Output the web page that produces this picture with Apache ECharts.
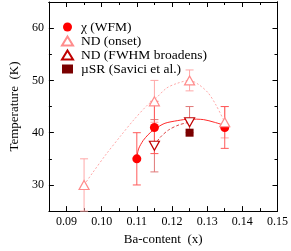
<!DOCTYPE html>
<html>
<head>
<meta charset="utf-8">
<script src="https://cdn.jsdelivr.net/npm/echarts@6/dist/echarts.min.js"></script>
<style>
html,body{margin:0;padding:0;background:#fff;}
#c{width:291px;height:251px;}
</style>
</head>
<body>
<div id="c"></div>
<script>
// ---- data ----
var xMajor = [0.09, 0.10, 0.11, 0.12, 0.13, 0.14, 0.15];
var xMinor = [0.095, 0.105, 0.115, 0.125, 0.135, 0.145];
var yMajor = [30, 40, 50, 60];
var yMinor = [35, 45, 55];

var chiX = [0.110, 0.115, 0.135];
var chiY = [35, 41, 41];
var chiLo = [30, 36, 37];
var chiHi = [40, 46, 45];

var onsetX = [0.095, 0.115, 0.125, 0.135];
var onsetY = [30, 46, 50, 42];
var onsetLo = [25, 42, 48, 39];
var onsetHi = [35, 50, 52, 45];

var fwhmX = [0.115, 0.125];
var fwhmY = [37.5, 42];
var fwhmLo = [32.5, 40];
var fwhmHi = [42.5, 45];

var musrX = [0.125];
var musrY = [40];

var chiFitX = [0.110, 0.1105, 0.1118, 0.1132, 0.1145, 0.1158, 0.118, 0.1215, 0.125, 0.129, 0.132, 0.135];
var chiFitY = [35.2, 36.9, 38.5, 39.6, 40.4, 41.0, 41.8, 42.3, 42.6, 42.5, 42.0, 41.4];

var onsetFitX = [0.095, 0.0974, 0.1013, 0.1053, 0.1092, 0.1132, 0.115, 0.1184, 0.1213, 0.125, 0.1276, 0.1303, 0.1325, 0.135];
var onsetFitY = [30, 32.3, 35.9, 39.3, 42.5, 45.4, 46.3, 48.5, 49.4, 50, 49.2, 47.6, 45.3, 42];

var fwhmFitX = [0.115, 0.1165, 0.119, 0.122, 0.125];
var fwhmFitY = [37.5, 39.0, 40.5, 41.5, 42.0];

function zip(a, b) { return a.map(function (v, i) { return [v, b[i]]; }); }
function zip3(a, b, c) { return a.map(function (v, i) { return [v, b[i], c[i]]; }); }

var FONT = 'Liberation Serif';

function errSeries(data, color) {
  return {
    type: 'custom', xAxisIndex: 0, yAxisIndex: 0, z: 1, silent: true,
    data: data,
    renderItem: function (params, api) {
      var x = api.value(0);
      var lo = api.coord([x, api.value(1)]);
      var hi = api.coord([x, api.value(2)]);
      var w = 4;
      var st = { stroke: color, lineWidth: 1 };
      return {
        type: 'group', children: [
          { type: 'line', shape: { x1: lo[0], y1: lo[1], x2: hi[0], y2: hi[1] }, style: st },
          { type: 'line', shape: { x1: lo[0] - w, y1: lo[1], x2: lo[0] + w, y2: lo[1] }, style: st },
          { type: 'line', shape: { x1: hi[0] - w, y1: hi[1], x2: hi[0] + w, y2: hi[1] }, style: st }
        ]
      };
    }
  };
}

function axisX(pos, ticks, len, labels) {
  return {
    type: 'value', position: pos, min: 0.085, max: 0.15, interval: 0.005,
    splitLine: { show: false },
    axisLine: { show: labels || pos === 'top', onZero: false, lineStyle: { color: '#000', width: 1 } },
    axisTick: { show: true, inside: true, length: len, customValues: ticks, lineStyle: { color: '#000' } },
    axisLabel: labels ? { show: true, customValues: ticks, margin: 5, color: '#000', fontFamily: FONT, fontSize: 12,
      formatter: function (v) { return v.toFixed(2); } } : { show: false },
    name: labels ? 'Ba-content  (x)' : '',
    nameLocation: 'middle', nameGap: 19,
    nameTextStyle: { color: '#000', fontFamily: FONT, fontSize: 13 }
  };
}
function axisY(pos, ticks, len, labels) {
  return {
    type: 'value', position: pos, min: 25, max: 65, interval: 5,
    splitLine: { show: false },
    axisLine: { show: labels || pos === 'right', onZero: false, lineStyle: { color: '#000', width: 1 } },
    axisTick: { show: true, inside: true, length: len, customValues: ticks, lineStyle: { color: '#000' } },
    axisLabel: labels ? { show: true, customValues: ticks, margin: 5, color: '#000', fontFamily: FONT, fontSize: 12 } : { show: false },
    name: labels ? 'Temperature  (K)' : '',
    nameLocation: 'middle', nameGap: 18, nameRotate: 90,
    nameTextStyle: { color: '#000', fontFamily: FONT, fontSize: 13 }
  };
}

var chart = echarts.init(document.getElementById('c'), null, { renderer: 'canvas' });
chart.setOption({
  animation: false,
  backgroundColor: '#fff',
  textStyle: { fontFamily: FONT },
  grid: { left: 32, right: 10, top: 2, bottom: 33 },
  legend: {
    orient: 'vertical', left: 56, top: 15, itemWidth: 11, itemHeight: 9, itemGap: 0,
    textStyle: { color: '#000', fontFamily: FONT, fontSize: 13.5, padding: [0, 0, 0, 3] },
    data: ['χ (WFM)', 'ND (onset)', 'ND (FWHM broadens)', 'µSR (Savici et al.)']
  },
  xAxis: [
    axisX('bottom', xMajor, 5, true),
    axisX('bottom', xMinor, 3, false),
    axisX('top', xMajor, 5, false),
    axisX('top', xMinor, 3, false)
  ],
  yAxis: [
    axisY('left', yMajor, 5, true),
    axisY('left', yMinor, 3, false),
    axisY('right', yMajor, 5, false),
    axisY('right', yMinor, 3, false)
  ],
  series: [
    errSeries(zip3(onsetX, onsetLo, onsetHi), '#ffa8a8'),
    errSeries(zip3(fwhmX, fwhmLo, fwhmHi), '#e07878'),
    errSeries(zip3(chiX, chiLo, chiHi), '#ff5a5a'),
    { type: 'line', xAxisIndex: 0, yAxisIndex: 0, z: 2, silent: true, showSymbol: false, smooth: 0.3,
      data: zip(onsetFitX, onsetFitY), lineStyle: { color: '#ffa8a8', width: 1, type: [2, 2] } },
    { type: 'line', xAxisIndex: 0, yAxisIndex: 0, z: 2, silent: true, showSymbol: false, smooth: 0.3,
      data: zip(fwhmFitX, fwhmFitY), lineStyle: { color: '#dd4444', width: 1, type: [3, 2] } },
    { type: 'line', xAxisIndex: 0, yAxisIndex: 0, z: 2, silent: true, showSymbol: false, smooth: 0.3,
      data: zip(chiFitX, chiFitY), lineStyle: { color: '#ff2a2a', width: 1 } },
    { name: 'χ (WFM)', type: 'scatter', xAxisIndex: 0, yAxisIndex: 0, z: 3,
      symbol: 'circle', symbolSize: 9, data: zip(chiX, chiY),
      itemStyle: { color: '#ff0000', opacity: 1 } },
    { name: 'ND (onset)', type: 'scatter', xAxisIndex: 0, yAxisIndex: 0, z: 3,
      symbol: 'triangle', symbolSize: [10, 9], data: zip(onsetX, onsetY),
      itemStyle: { color: '#ffffff', borderColor: '#ff8c8c', borderWidth: 1.2, opacity: 1 } },
    { name: 'ND (FWHM broadens)', type: 'scatter', xAxisIndex: 0, yAxisIndex: 0, z: 3,
      symbol: 'triangle', symbolRotate: 180, symbolSize: [10, 9], data: zip(fwhmX, fwhmY),
      itemStyle: { color: '#ffffff', borderColor: '#c00000', borderWidth: 1.2, opacity: 1 } },
    { name: 'µSR (Savici et al.)', type: 'scatter', xAxisIndex: 0, yAxisIndex: 0, z: 3,
      symbol: 'rect', symbolSize: 8, data: zip(musrX, musrY),
      itemStyle: { color: '#7a0000', opacity: 1 } }
  ]
});
</script>
</body>
</html>
